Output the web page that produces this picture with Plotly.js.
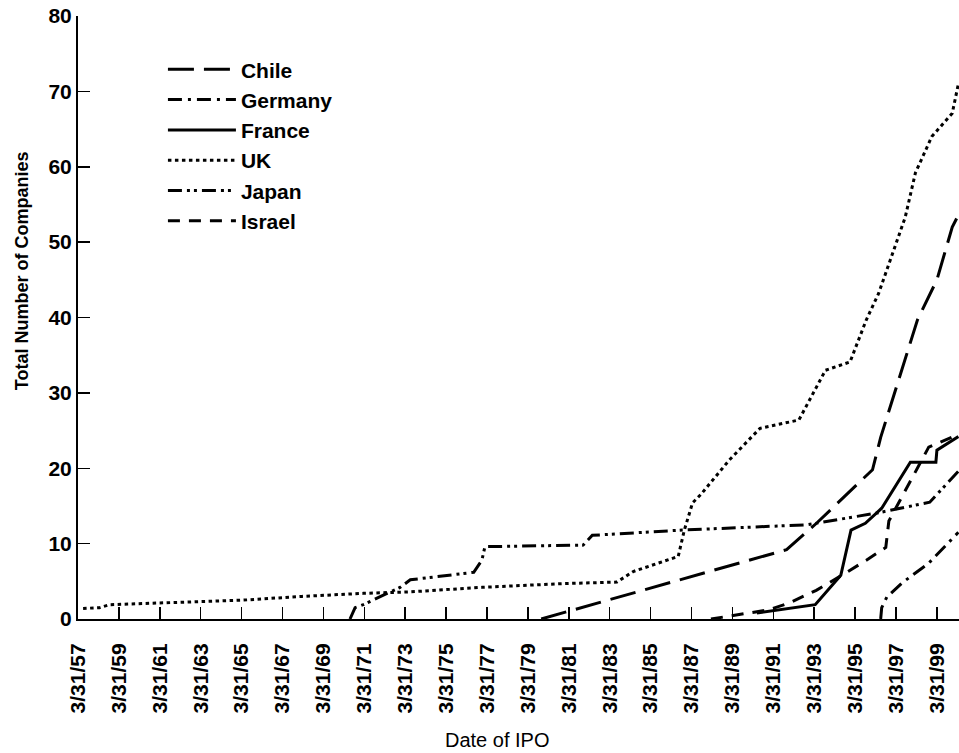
<!DOCTYPE html>
<html>
<head>
<meta charset="utf-8">
<script src="https://cdn.plot.ly/plotly-3.0.1.min.js"></script>
<style>html,body{margin:0;padding:0;background:#fff;}#chart{width:959px;height:753px;}</style>
</head>
<body>
<div id="chart"></div>
<script>
// Decimal-year x values, company counts y values
var chileX   = [1979.9, 1991.9, 1993.4, 1996.1, 1996.5, 1997.7, 1998.3, 1999.25, 2000.0, 2000.3];
var chileY   = [0, 9.2, 12.8, 19.8, 24.1, 34.7, 39.7, 45.0, 52.0, 53.6];

var germanyX = [1996.5, 1996.55, 1996.8, 1997.55, 1998.85, 2000.3];
var germanyY = [0, 1.5, 2.9, 4.8, 7.4, 11.5];

var franceX  = [1990.45, 1993.3, 1994.55, 1995.05, 1995.75, 1996.55, 1997.95, 1999.2, 1999.25, 2000.3];
var franceY  = [0.8, 1.9, 5.8, 11.8, 12.7, 14.7, 20.8, 20.8, 22.4, 24.2];

var ukX      = [1957.5, 1958.3, 1958.8, 1961.1, 1965.3, 1968.2, 1971.2, 1973.5, 1977.0, 1981.0, 1983.6, 1984.4, 1986.6, 1986.9, 1987.3, 1987.7, 1989.1, 1990.6, 1992.5, 1993.8, 1995.0, 1995.8, 1996.4, 1997.7, 1998.2, 1999.0, 2000.0, 2000.3];
var ukY      = [1.4, 1.5, 1.9, 2.1, 2.5, 3.0, 3.4, 3.6, 4.2, 4.7, 4.9, 6.3, 8.3, 11.8, 15.4, 16.5, 21.1, 25.3, 26.4, 33.0, 34.1, 39.7, 43.2, 53.3, 59.2, 64.0, 67.1, 71.0];

var japanX   = [1970.55, 1970.8, 1971.2, 1973.0, 1973.5, 1976.6, 1977.0, 1977.15, 1981.95, 1982.4, 1986.8, 1992.9, 1996.4, 1998.9, 2000.3];
var japanY   = [0, 1.5, 1.9, 4.2, 5.2, 6.2, 7.8, 9.6, 9.8, 11.1, 11.8, 12.5, 14.1, 15.5, 19.6];

var israelX  = [1988.2, 1991.0, 1992.0, 1993.35, 1994.6, 1995.8, 1996.75, 1996.9, 1998.85, 2000.3];
var israelY  = [0, 1.2, 2.1, 3.8, 5.8, 7.8, 9.5, 13.0, 22.8, 24.5];

var tickLabels = ["3/31/57","3/31/59","3/31/61","3/31/63","3/31/65","3/31/67","3/31/69","3/31/71","3/31/73","3/31/75","3/31/77","3/31/79","3/31/81","3/31/83","3/31/85","3/31/87","3/31/89","3/31/91","3/31/93","3/31/95","3/31/97","3/31/99"];
var tickPositions = tickLabels.map(function(t){ return 1900 + parseInt(t.split('/')[2], 10) + 0.25; });
var yTicks = [0, 10, 20, 30, 40, 50, 60, 70, 80];

var FONT = 'Liberation Sans, Arial, Helvetica, sans-serif';

function tr(name, x, y, dash) {
  return {
    type: 'scatter', mode: 'lines', name: name, x: x, y: y,
    line: {color: '#000', width: 3, dash: dash},
    hoverinfo: 'skip'
  };
}

var data = [
  tr('Chile',   chileX,   chileY,   '26px,10px'),
  tr('Germany', germanyX, germanyY, '14px,6px,3px,6px'),
  tr('France',  franceX,  franceY,  'solid'),
  tr('UK',      ukX,      ukY,      '3.5px,3.5px'),
  tr('Japan',   japanX,   japanY,   '14px,5px,3px,4px,3px,5px'),
  tr('Israel',  israelX,  israelY,  '12px,9px')
];

var layout = {
  width: 959, height: 753,
  margin: {l: 78, r: 0, t: 16, b: 134},
  paper_bgcolor: '#fff', plot_bgcolor: '#fff',
  font: {family: FONT, color: '#000'},
  showlegend: true,
  xaxis: {
    range: [1957.25, 2000.33],
    tickvals: tickPositions, ticktext: tickLabels,
    tickangle: -90,
    ticks: 'inside', ticklen: 12, tickwidth: 1.5, tickcolor: '#000',
    ticklabelstandoff: 14,
    tickfont: {family: FONT, size: 21, color: '#000', weight: 'bold'},
    showline: true, linewidth: 2, linecolor: '#000',
    showgrid: false, zeroline: false, fixedrange: true
  },
  yaxis: {
    range: [0, 80],
    tickvals: yTicks,
    ticks: 'inside', ticklen: 12, tickwidth: 1.5, tickcolor: '#000',
    tickfont: {family: FONT, size: 21, color: '#000', weight: 'bold'},
    showline: true, linewidth: 2, linecolor: '#000',
    showgrid: false, zeroline: false, fixedrange: true
  },
  legend: {
    x: 0.0964, y: 0.945, xanchor: 'left', yanchor: 'top',
    bgcolor: 'rgba(0,0,0,0)', borderwidth: 0,
    itemwidth: 68,
    font: {family: FONT, size: 21, color: '#000', weight: 'bold'}
  },
  annotations: [
    {text: 'Total Number of Companies', xref: 'paper', yref: 'paper',
     x: -0.0635, y: 0.577, xanchor: 'center', yanchor: 'middle', textangle: -90,
     showarrow: false, font: {family: FONT, size: 18, color: '#000', weight: 'bold'}},
    {text: 'Date of IPO', xref: 'paper', yref: 'paper',
     x: 0.4756, y: -0.2007, xanchor: 'center', yanchor: 'middle',
     showarrow: false, font: {family: FONT, size: 20, color: '#000'}}
  ]
};

Plotly.newPlot('chart', data, layout, {displayModeBar: false, staticPlot: true});
</script>
</body>
</html>
